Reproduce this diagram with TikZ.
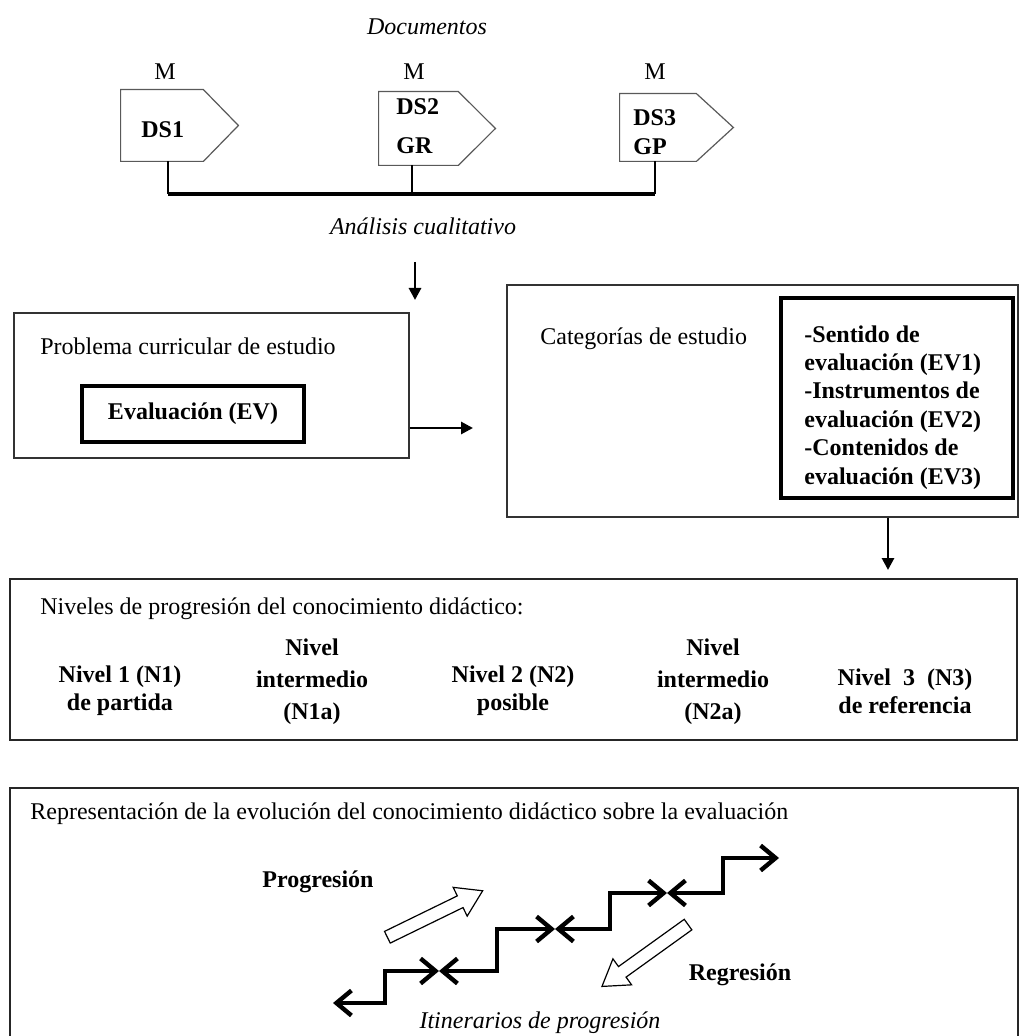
\documentclass[tikz,border=0pt]{standalone}
\usepackage{fontspec}
\setmainfont{Liberation Serif}
\usetikzlibrary{arrows.meta,calc}
\begin{document}
\begin{tikzpicture}[x=0.5pt,y=-0.5pt,
  every node/.style={font=\fontsize{12pt}{14.2pt}\selectfont, inner sep=0pt},
  lefttxt/.style={anchor=base west},
  thinbox/.style={draw=black!80, line width=0.7pt},
  thickbox/.style={draw=black, line width=2pt},
  framebox/.style={draw=black!85, line width=1pt},
  penta/.style={draw=black!65, line width=0.6pt},
  conn/.style={line width=1.4pt, -{Triangle[length=6pt,width=6pt]}},
  stairarrow/.style={line width=2.2pt, {Straight Barb[length=7.5pt,width=12.5pt]}-{Straight Barb[length=7.5pt,width=12.5pt]}},
  hollow/.style={draw=black, line width=0.6pt, fill=white},
  boldtxt/.style={font=\bfseries\fontsize{12pt}{14.2pt}\selectfont},
  itxt/.style={font=\itshape\fontsize{12pt}{14.2pt}\selectfont}
]
\useasboundingbox (0,0) rectangle (1029,1036);

% ---------- Documents ----------
\node[itxt] (doc) at (427,27) {Documentos};
\node (m1) at (165,72) {M};
\node (m2) at (414,72) {M};
\node (m3) at (655,72) {M};

\node[minimum width=41pt, minimum height=35.5pt] (p1) at (162,125.5) {};
\node[minimum width=39.5pt, minimum height=36.5pt] (p2) at (418.5,128.5) {};
\node[minimum width=38pt, minimum height=33.5pt] (p3) at (658,127.5) {};
\draw[penta] (p1.north west) -- (p1.north east) -- ($(p1.east)+(35,0)$) -- (p1.south east) -- (p1.south west) -- cycle;
\draw[penta] (p2.north west) -- (p2.north east) -- ($(p2.east)+(37,0)$) -- (p2.south east) -- (p2.south west) -- cycle;
\draw[penta] (p3.north west) -- (p3.north east) -- ($(p3.east)+(37,0)$) -- (p3.south east) -- (p3.south west) -- cycle;

\node[boldtxt, anchor=west] (ds1) at (141,130) {DS1};
\node[boldtxt, anchor=west] (ds2) at (396,107) {DS2};
\node[boldtxt, anchor=west] (gr) at (396,146) {GR};
\node[boldtxt, anchor=west] (ds3) at (633,118) {DS3};
\node[boldtxt, anchor=west] (gp) at (633,147) {GP};

\coordinate (h1) at (168,194);
\coordinate (h2) at (412,194);
\coordinate (h3) at (655,194);
\draw[line width=1pt] (p1.south -| h1) -- (h1);
\draw[line width=1pt] (p2.south -| h2) -- (h2);
\draw[line width=1pt] (p3.south -| h3) -- (h3);
\draw[line width=1.6pt] (h1) -- (h3);

\node[itxt] (ana) at (423,226) {Análisis cualitativo};
\coordinate (a0) at (415,262);
\coordinate (a1) at (415,300);
\draw[conn] (a0) -- (a1);

% ---------- Problem box ----------
\node[thinbox, minimum width=197.5pt, minimum height=72.5pt] (lbox) at (211.5,385.5) {};
\node[lefttxt] (prob) at (40,355) {Problema curricular de estudio};
\node[thickbox, minimum width=111pt, minimum height=28pt, boldtxt] (ev) at (193,414) {Evaluación (EV)};
\coordinate (a2) at (473,428);
\draw[conn] (lbox.east |- a2) -- (a2);

% ---------- Categories box ----------
\node[thinbox, minimum width=255.5pt, minimum height=116pt] (rbox) at (762.5,401) {};
\node[lefttxt] (catt) at (540,345) {Categorías de estudio};
\node[thickbox, minimum width=116pt, minimum height=100pt] (cbox) at (897,398) {};
\node[boldtxt, align=left, anchor=north west] (cats) at (804,325)
  {-Sentido de\\evaluación (EV1)\\-Instrumentos de\\evaluación (EV2)\\-Contenidos de\\evaluación (EV3)};
\coordinate (a3) at (888,570);
\draw[conn] (rbox.south -| a3) -- (a3);

% ---------- Levels box ----------
\node[framebox, minimum width=503.5pt, minimum height=80.5pt] (nbox) at (513.5,659.5) {};
\node[lefttxt] (nt) at (40,614) {Niveles de progresión del conocimiento didáctico:};
\node[boldtxt, align=center] (n1) at (120,691) {Nivel 1 (N1)\\de partida};
\node[font=\bfseries\fontsize{12pt}{16pt}\selectfont, align=center] (n1a) at (312,682) {Nivel\\intermedio\\(N1a)};
\node[boldtxt, align=center] (n2) at (513,691) {Nivel 2 (N2)\\posible};
\node[font=\bfseries\fontsize{12pt}{16pt}\selectfont, align=center] (n2a) at (713,682) {Nivel\\intermedio\\(N2a)};
\node[boldtxt, align=center] (n3) at (905,691) {Nivel\ \ 3\ \ (N3)\\de referencia};

% ---------- Representation box ----------
\node[framebox, minimum width=504pt, minimum height=131pt] (bbox) at (514,919) {};
\node[lefttxt] (rt) at (30,819) {Representación de la evolución del conocimiento didáctico sobre la evaluación};
\node[boldtxt] (prog) at (318,882) {Progresión};
\node[boldtxt] (reg) at (740,975) {Regresión};
\node[itxt] (itin) at (540,1023) {Itinerarios de progresión};

% stairs
\coordinate (s0) at (333,1003);
\coordinate (x1) at (439,971);
\coordinate (x2) at (555,929);
\coordinate (x3) at (667,893);
\coordinate (s4) at (779,858);
\draw[stairarrow] (s0) -- (385,1003) -- (385,971) -- (x1);
\draw[stairarrow] (x1) -- (497,971) -- (497,929) -- (x2);
\draw[stairarrow] (x2) -- (610,929) -- (610,893) -- (x3);
\draw[stairarrow] (x3) -- (723,893) -- (723,858) -- (s4);

% hollow arrows
\begin{scope}[shift={(435,914)}, rotate=26]
\draw[hollow] (-53,-6.5) -- (28,-6.5) -- (28,-16) -- (53,0) -- (28,16) -- (28,6.5) -- (-53,6.5) -- cycle;
\end{scope}
\begin{scope}[shift={(645,955.5)}, rotate=215.7]
\draw[hollow] (-53,-6.5) -- (28,-6.5) -- (28,-16) -- (53,0) -- (28,16) -- (28,6.5) -- (-53,6.5) -- cycle;
\end{scope}

\end{tikzpicture}
\end{document}
